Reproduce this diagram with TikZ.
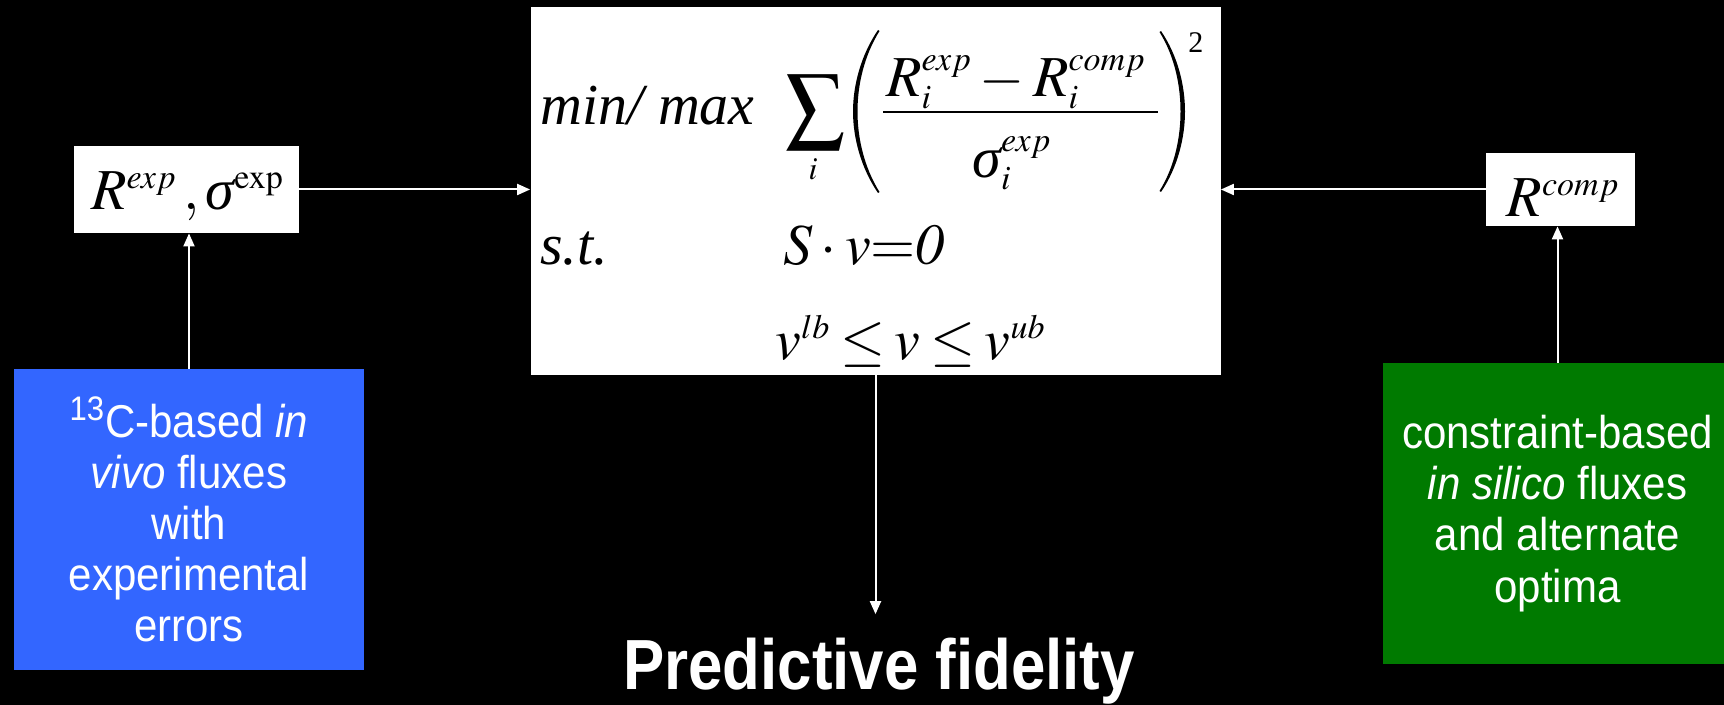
\documentclass[tikz,border=0pt]{standalone}
\usepackage{mathptmx}
\usepackage{graphicx}
\usepackage[no-math]{fontspec}
\setmainfont{Liberation Serif}
\newfontfamily\boxsans[FakeStretch=0.913]{Liberation Sans}
\newfontfamily\titlesans[FakeStretch=0.87]{Liberation Sans}
\DeclareMathSizes{29}{29}{17}{13}
\newcommand{\sig}{\mbox{\itshape σ}}
\usetikzlibrary{arrows.meta}
\definecolor{bluebox}{RGB}{51,102,255}
\definecolor{greenbox}{RGB}{0,122,0}
\begin{document}
\begin{tikzpicture}[x=0.5pt,y=-0.5pt,
  wbox/.style={draw=none,fill=white,inner sep=0pt},
  arr/.style={draw=white,line width=1pt,-{Triangle[length=6.5pt,width=5.5pt]}},
  tnr/.style={inner sep=0pt,text=black,font=\fontsize{29}{34}\selectfont},
  tnrscript/.style={inner sep=0pt,text=black,font=\fontsize{15}{18}\selectfont},
  sumscript/.style={inner sep=0pt,text=black,font=\fontsize{16}{18}\selectfont},
  sansbox/.style={inner sep=0pt,text=white,align=center,font=\boxsans\fontsize{23}{25.6}\selectfont},
  paren/.style={fill=black,draw=none}
]
\fill[black] (0,0) rectangle (1724,705);
\useasboundingbox (0,0) rectangle (1724,705);
\clip (0,0) rectangle (1724,705);

% boxes
\node[wbox,minimum width=112.5pt,minimum height=43.5pt] (rexp) at (186.5,189.5) {};
\node[tnr,anchor=base] (rexptext) at (187.5,210) {$R^{exp}\,,\sig^{\mathrm{exp}}$};

\node[wbox,minimum width=74.5pt,minimum height=36.5pt] (rcomp) at (1560.5,189.5) {};
\node[tnr,anchor=base] (rcomptext) at (1563,217) {$R^{comp}$};

\node[wbox,minimum width=345pt,minimum height=184pt] (main) at (875.5,191) {};

\node[sansbox,fill=bluebox,minimum width=175pt,minimum height=150.5pt] (blue) at (189,519.5)
  {\textsuperscript{13}C-based \textit{in}\\ \textit{vivo} fluxes\\ with\\ experimental\\ errors};

\node[sansbox,fill=greenbox,minimum width=174.5pt,minimum height=150.5pt] (green) at (1557.5,513.5)
  {constraint-based\\ \textit{in silico} fluxes\\ and alternate\\ optima};

\node[inner sep=0pt,text=white,anchor=base,
      font=\titlesans\bfseries\fontsize{35.5}{42}\selectfont] (pred) at (879,689) {Predictive fidelity};
\coordinate (predtip) at ([yshift=11.5pt]pred.north);

% formula
\node[tnr,anchor=base west] (minmax) at (540,125) {\itshape min/ max};
\node[tnr] (sum) at (815,112.5) {\resizebox*{30pt}{37.5pt}{$\textstyle\sum$}};
\node[sumscript,anchor=base] (sumi) at (813,180) {$i$};
% parentheses
\fill[paren] (878,30) .. controls (861,55) and (853,85) .. (853,111.5)
  .. controls (853,138) and (861,168) .. (878,193)
  -- (879.5,192) .. controls (864,167) and (857.5,138) .. (857.5,111.5)
  .. controls (857.5,85) and (864,56) .. (879.5,31) -- cycle;
\fill[paren] (1161,31) .. controls (1178,56) and (1185,86) .. (1185,111.5)
  .. controls (1185,137) and (1178,167) .. (1161,192)
  -- (1159.5,191) .. controls (1175,166) and (1180.5,137) .. (1180.5,111.5)
  .. controls (1180.5,86) and (1175,57) .. (1159.5,32) -- cycle;
\node[tnrscript,anchor=base west] (sq) at (1188,53) {2};
\node[tnr,anchor=base] (num) at (1016,97) {$R_i^{exp}-R_i^{comp}$};
\draw[line width=1.2pt] (883,112) -- (1158,112);
\node[tnr,anchor=base] (den) at (1012,178) {$\sig_i^{exp}$};
\node[tnr,anchor=base west] (st) at (540,265) {\itshape s.t.};
\node[tnr,anchor=base west] (sv) at (783,265) {$S\cdot v{=}\mathit{0}$};
\node[tnr,anchor=base west] (bnd) at (775,360) {$v^{lb}\mskip-1mu\le\mskip-1mu v\mskip-1mu\le\mskip-1mu v^{ub}$};

% connectors
\draw[arr] (rexp.east) -- (rexp.east -| main.west);
\draw[arr] (rcomp.west) -- (rcomp.west -| main.east);
\draw[arr] (blue.north) -- (blue.north |- rexp.south);
\draw[arr] (green.north) -- (green.north |- rcomp.south);
\draw[arr] (main.south) -- (main.south |- predtip);
\end{tikzpicture}
\end{document}
